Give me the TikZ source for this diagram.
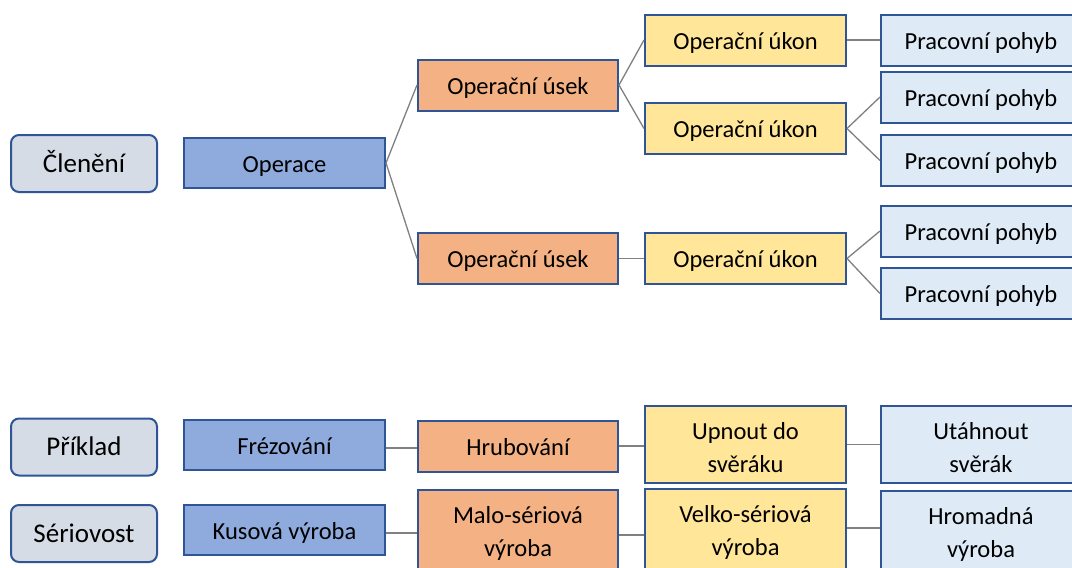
\documentclass[tikz,border=0pt]{standalone}
\usepackage{fontspec}
\setmainfont{Carlito}
\definecolor{bord}{HTML}{2F5597}
\definecolor{lab}{HTML}{D6DCE5}
\definecolor{opc}{HTML}{8FAADC}
\definecolor{usk}{HTML}{F4B183}
\definecolor{ukn}{HTML}{FFE699}
\definecolor{poh}{HTML}{DEEBF7}
\definecolor{conn}{HTML}{808080}
\begin{document}
\begin{tikzpicture}[x=1pt,y=-1pt,
  base/.style={draw=bord,line width=2pt,inner sep=0pt,text=black,align=center,
    font=\fontsize{24.5}{33.3}\selectfont,anchor=center,
    minimum height=51pt,text height=34.5pt,text depth=16.5pt},
  labbox/.style={base,fill=lab,rounded corners=8pt,minimum width=146pt,
    font=\fontsize{27}{33}\selectfont,minimum height=57pt,text height=37pt,text depth=20pt},
  opbox/.style={base,fill=opc,minimum width=201pt,minimum height=50pt,text height=34pt,text depth=16pt},
  uskbox/.style={base,fill=usk,minimum width=200pt},
  uknbox/.style={base,fill=ukn,minimum width=201pt},
  pohbox/.style={base,fill=poh,minimum width=200pt},
  tall/.style={minimum height=77pt,text height=66.7pt,text depth=10.3pt},
  taller/.style={minimum height=86pt,text height=66.3pt,text depth=19.7pt},
  conn/.style={draw=conn,line width=1.3pt}]
\useasboundingbox (0,0) rectangle (1072,568);
\fill[white] (0,0) rectangle (1072,568);
% top part
\node[labbox] (cl) at (84,163.5) {Členění};
\node[opbox] (op) at (284.5,163) {Operace};
\node[uskbox] (us1) at (518,85) {Operační úsek};
\node[uskbox] (us2) at (518,258.5) {Operační úsek};
\node[uknbox] (uk1) at (745.5,40) {Operační úkon};
\node[uknbox] (uk2) at (745.5,128.5) {Operační úkon};
\node[uknbox] (uk3) at (745.5,258.5) {Operační úkon};
\node[pohbox] (p1) at (981,40) {Pracovní pohyb};
\node[pohbox] (p2) at (981,97) {Pracovní pohyb};
\node[pohbox] (p3) at (981,160.5) {Pracovní pohyb};
\node[pohbox] (p4) at (981,231) {Pracovní pohyb};
\node[pohbox] (p5) at (981,293.5) {Pracovní pohyb};
\draw[conn] (op.east) -- (us1.west);
\draw[conn] (op.east) -- (us2.west);
\draw[conn] (us1.east) -- (uk1.west);
\draw[conn] (us1.east) -- (uk2.west);
\draw[conn] (us2.east) -- (uk3.west);
\draw[conn] (uk1.east) -- (p1.west);
\draw[conn] (uk2.east) -- (p2.west);
\draw[conn] (uk2.east) -- (p3.west);
\draw[conn] (uk3.east) -- (p4.west);
\draw[conn] (uk3.east) -- (p5.west);
% example row
\node[labbox] (pr) at (84,447) {Příklad};
\node[opbox] (fr) at (284.5,445) {Frézování};
\node[uskbox] (hr) at (518,446) {Hrubování};
\node[uknbox,tall] (up) at (745.5,444.5) {Upnout do\\svěráku};
\node[pohbox,tall] (ut) at (981,444.5) {Utáhnout\\svěrák};
\draw[conn] ([yshift=-3pt]fr.east) -- ([yshift=-3pt]fr.east -| hr.west);
\draw[conn] (hr.east) -- (hr.east -| up.west);
\draw[conn] (up.east) -- (ut.west);
% seriovost row
\node[labbox] (se) at (84,533.5) {Sériovost};
\node[opbox] (ku) at (284.5,530) {Kusová výroba};
\node[uskbox,taller] (ma) at (518,533) {Malo-sériová\\výroba};
\node[uknbox,taller] (ve) at (745.5,532) {Velko-sériová\\výroba};
\node[pohbox,taller] (hm) at (981,534) {Hromadná\\výroba};
\draw[conn] ([yshift=-3pt]ku.east) -- ([yshift=-3pt]ku.east -| ma.west);
\draw[conn] ([yshift=-2pt]ma.east) -- ([yshift=-2pt]ma.east -| ve.west);
\draw[conn] ([yshift=4pt]ve.east) -- ([yshift=4pt]ve.east -| hm.west);
\end{tikzpicture}
\end{document}
